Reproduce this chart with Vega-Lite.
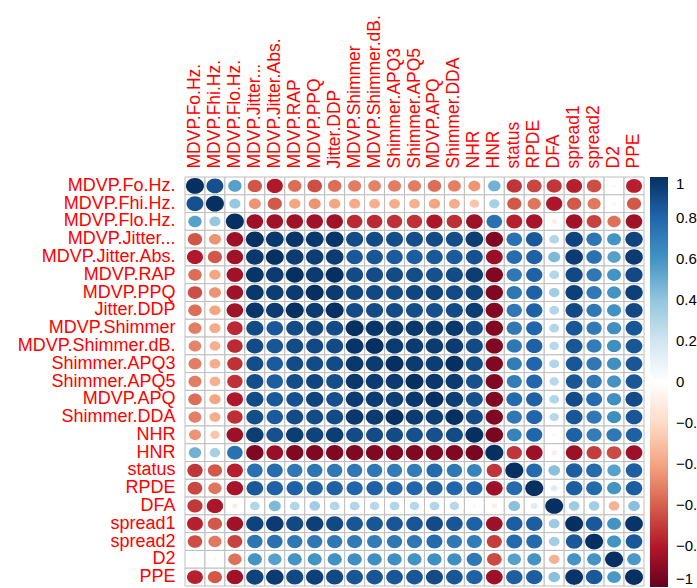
{
  "$schema": "https://vega.github.io/schema/vega-lite/v6.json",
  "width": 459,
  "height": 409,
  "autosize": {"type": "none"},
  "padding": {"left": 185, "top": 177, "right": 53, "bottom": 2},
  "background": "white",
  "config": {"view": {"stroke": null}, "font": "Liberation Sans"},
  "data": {"values": [
    {"row":"MDVP.Fo.Hz.","col":"MDVP.Fo.Hz.","r":1},{"row":"MDVP.Fo.Hz.","col":"MDVP.Fhi.Hz.","r":0.88},{"row":"MDVP.Fo.Hz.","col":"MDVP.Flo.Hz.","r":0.55},{"row":"MDVP.Fo.Hz.","col":"MDVP.Jitter...","r":-0.63},{"row":"MDVP.Fo.Hz.","col":"MDVP.Jitter.Abs.","r":-0.8},{"row":"MDVP.Fo.Hz.","col":"MDVP.RAP","r":-0.56},{"row":"MDVP.Fo.Hz.","col":"MDVP.PPQ","r":-0.65},{"row":"MDVP.Fo.Hz.","col":"Jitter.DDP","r":-0.56},{"row":"MDVP.Fo.Hz.","col":"MDVP.Shimmer","r":-0.52},{"row":"MDVP.Fo.Hz.","col":"MDVP.Shimmer.dB.","r":-0.5},{"row":"MDVP.Fo.Hz.","col":"Shimmer.APQ3","r":-0.52},{"row":"MDVP.Fo.Hz.","col":"Shimmer.APQ5","r":-0.52},{"row":"MDVP.Fo.Hz.","col":"MDVP.APQ","r":-0.56},{"row":"MDVP.Fo.Hz.","col":"Shimmer.DDA","r":-0.51},{"row":"MDVP.Fo.Hz.","col":"NHR","r":-0.45},{"row":"MDVP.Fo.Hz.","col":"HNR","r":0.48},{"row":"MDVP.Fo.Hz.","col":"status","r":-0.72},{"row":"MDVP.Fo.Hz.","col":"RPDE","r":-0.67},{"row":"MDVP.Fo.Hz.","col":"DFA","r":-0.71},{"row":"MDVP.Fo.Hz.","col":"spread1","r":-0.78},{"row":"MDVP.Fo.Hz.","col":"spread2","r":-0.65},{"row":"MDVP.Fo.Hz.","col":"D2","r":-0.05},{"row":"MDVP.Fo.Hz.","col":"PPE","r":-0.78},
    {"row":"MDVP.Fhi.Hz.","col":"MDVP.Fo.Hz.","r":0.88},{"row":"MDVP.Fhi.Hz.","col":"MDVP.Fhi.Hz.","r":1},{"row":"MDVP.Fhi.Hz.","col":"MDVP.Flo.Hz.","r":0.38},{"row":"MDVP.Fhi.Hz.","col":"MDVP.Jitter...","r":-0.45},{"row":"MDVP.Fhi.Hz.","col":"MDVP.Jitter.Abs.","r":-0.62},{"row":"MDVP.Fhi.Hz.","col":"MDVP.RAP","r":-0.4},{"row":"MDVP.Fhi.Hz.","col":"MDVP.PPQ","r":-0.45},{"row":"MDVP.Fhi.Hz.","col":"Jitter.DDP","r":-0.4},{"row":"MDVP.Fhi.Hz.","col":"MDVP.Shimmer","r":-0.38},{"row":"MDVP.Fhi.Hz.","col":"MDVP.Shimmer.dB.","r":-0.36},{"row":"MDVP.Fhi.Hz.","col":"Shimmer.APQ3","r":-0.37},{"row":"MDVP.Fhi.Hz.","col":"Shimmer.APQ5","r":-0.36},{"row":"MDVP.Fhi.Hz.","col":"MDVP.APQ","r":-0.4},{"row":"MDVP.Fhi.Hz.","col":"Shimmer.DDA","r":-0.37},{"row":"MDVP.Fhi.Hz.","col":"NHR","r":-0.28},{"row":"MDVP.Fhi.Hz.","col":"HNR","r":0.33},{"row":"MDVP.Fhi.Hz.","col":"status","r":-0.62},{"row":"MDVP.Fhi.Hz.","col":"RPDE","r":-0.54},{"row":"MDVP.Fhi.Hz.","col":"DFA","r":-0.82},{"row":"MDVP.Fhi.Hz.","col":"spread1","r":-0.62},{"row":"MDVP.Fhi.Hz.","col":"spread2","r":-0.53},{"row":"MDVP.Fhi.Hz.","col":"D2","r":0.05},{"row":"MDVP.Fhi.Hz.","col":"PPE","r":-0.62},
    {"row":"MDVP.Flo.Hz.","col":"MDVP.Fo.Hz.","r":0.55},{"row":"MDVP.Flo.Hz.","col":"MDVP.Fhi.Hz.","r":0.38},{"row":"MDVP.Flo.Hz.","col":"MDVP.Flo.Hz.","r":1},{"row":"MDVP.Flo.Hz.","col":"MDVP.Jitter...","r":-0.86},{"row":"MDVP.Flo.Hz.","col":"MDVP.Jitter.Abs.","r":-0.85},{"row":"MDVP.Flo.Hz.","col":"MDVP.RAP","r":-0.85},{"row":"MDVP.Flo.Hz.","col":"MDVP.PPQ","r":-0.85},{"row":"MDVP.Flo.Hz.","col":"Jitter.DDP","r":-0.85},{"row":"MDVP.Flo.Hz.","col":"MDVP.Shimmer","r":-0.75},{"row":"MDVP.Flo.Hz.","col":"MDVP.Shimmer.dB.","r":-0.75},{"row":"MDVP.Flo.Hz.","col":"Shimmer.APQ3","r":-0.73},{"row":"MDVP.Flo.Hz.","col":"Shimmer.APQ5","r":-0.73},{"row":"MDVP.Flo.Hz.","col":"MDVP.APQ","r":-0.81},{"row":"MDVP.Flo.Hz.","col":"Shimmer.DDA","r":-0.74},{"row":"MDVP.Flo.Hz.","col":"NHR","r":-0.86},{"row":"MDVP.Flo.Hz.","col":"HNR","r":0.75},{"row":"MDVP.Flo.Hz.","col":"status","r":-0.78},{"row":"MDVP.Flo.Hz.","col":"RPDE","r":-0.83},{"row":"MDVP.Flo.Hz.","col":"DFA","r":-0.1},{"row":"MDVP.Flo.Hz.","col":"spread1","r":-0.85},{"row":"MDVP.Flo.Hz.","col":"spread2","r":-0.68},{"row":"MDVP.Flo.Hz.","col":"D2","r":-0.55},{"row":"MDVP.Flo.Hz.","col":"PPE","r":-0.85},
    {"row":"MDVP.Jitter...","col":"MDVP.Fo.Hz.","r":-0.63},{"row":"MDVP.Jitter...","col":"MDVP.Fhi.Hz.","r":-0.45},{"row":"MDVP.Jitter...","col":"MDVP.Flo.Hz.","r":-0.86},{"row":"MDVP.Jitter...","col":"MDVP.Jitter...","r":1},{"row":"MDVP.Jitter...","col":"MDVP.Jitter.Abs.","r":0.97},{"row":"MDVP.Jitter...","col":"MDVP.RAP","r":0.98},{"row":"MDVP.Jitter...","col":"MDVP.PPQ","r":0.97},{"row":"MDVP.Jitter...","col":"Jitter.DDP","r":0.98},{"row":"MDVP.Jitter...","col":"MDVP.Shimmer","r":0.9},{"row":"MDVP.Jitter...","col":"MDVP.Shimmer.dB.","r":0.9},{"row":"MDVP.Jitter...","col":"Shimmer.APQ3","r":0.89},{"row":"MDVP.Jitter...","col":"Shimmer.APQ5","r":0.89},{"row":"MDVP.Jitter...","col":"MDVP.APQ","r":0.9},{"row":"MDVP.Jitter...","col":"Shimmer.DDA","r":0.89},{"row":"MDVP.Jitter...","col":"NHR","r":0.95},{"row":"MDVP.Jitter...","col":"HNR","r":-0.93},{"row":"MDVP.Jitter...","col":"status","r":0.75},{"row":"MDVP.Jitter...","col":"RPDE","r":0.85},{"row":"MDVP.Jitter...","col":"DFA","r":0.3},{"row":"MDVP.Jitter...","col":"spread1","r":0.93},{"row":"MDVP.Jitter...","col":"spread2","r":0.73},{"row":"MDVP.Jitter...","col":"D2","r":0.6},{"row":"MDVP.Jitter...","col":"PPE","r":0.93},
    {"row":"MDVP.Jitter.Abs.","col":"MDVP.Fo.Hz.","r":-0.8},{"row":"MDVP.Jitter.Abs.","col":"MDVP.Fhi.Hz.","r":-0.62},{"row":"MDVP.Jitter.Abs.","col":"MDVP.Flo.Hz.","r":-0.85},{"row":"MDVP.Jitter.Abs.","col":"MDVP.Jitter...","r":0.97},{"row":"MDVP.Jitter.Abs.","col":"MDVP.Jitter.Abs.","r":1},{"row":"MDVP.Jitter.Abs.","col":"MDVP.RAP","r":0.96},{"row":"MDVP.Jitter.Abs.","col":"MDVP.PPQ","r":0.95},{"row":"MDVP.Jitter.Abs.","col":"Jitter.DDP","r":0.96},{"row":"MDVP.Jitter.Abs.","col":"MDVP.Shimmer","r":0.85},{"row":"MDVP.Jitter.Abs.","col":"MDVP.Shimmer.dB.","r":0.86},{"row":"MDVP.Jitter.Abs.","col":"Shimmer.APQ3","r":0.84},{"row":"MDVP.Jitter.Abs.","col":"Shimmer.APQ5","r":0.83},{"row":"MDVP.Jitter.Abs.","col":"MDVP.APQ","r":0.85},{"row":"MDVP.Jitter.Abs.","col":"Shimmer.DDA","r":0.84},{"row":"MDVP.Jitter.Abs.","col":"NHR","r":0.88},{"row":"MDVP.Jitter.Abs.","col":"HNR","r":-0.87},{"row":"MDVP.Jitter.Abs.","col":"status","r":0.77},{"row":"MDVP.Jitter.Abs.","col":"RPDE","r":0.82},{"row":"MDVP.Jitter.Abs.","col":"DFA","r":0.45},{"row":"MDVP.Jitter.Abs.","col":"spread1","r":0.96},{"row":"MDVP.Jitter.Abs.","col":"spread2","r":0.75},{"row":"MDVP.Jitter.Abs.","col":"D2","r":0.55},{"row":"MDVP.Jitter.Abs.","col":"PPE","r":0.96},
    {"row":"MDVP.RAP","col":"MDVP.Fo.Hz.","r":-0.56},{"row":"MDVP.RAP","col":"MDVP.Fhi.Hz.","r":-0.4},{"row":"MDVP.RAP","col":"MDVP.Flo.Hz.","r":-0.85},{"row":"MDVP.RAP","col":"MDVP.Jitter...","r":0.98},{"row":"MDVP.RAP","col":"MDVP.Jitter.Abs.","r":0.96},{"row":"MDVP.RAP","col":"MDVP.RAP","r":1},{"row":"MDVP.RAP","col":"MDVP.PPQ","r":0.96},{"row":"MDVP.RAP","col":"Jitter.DDP","r":1},{"row":"MDVP.RAP","col":"MDVP.Shimmer","r":0.9},{"row":"MDVP.RAP","col":"MDVP.Shimmer.dB.","r":0.9},{"row":"MDVP.RAP","col":"Shimmer.APQ3","r":0.9},{"row":"MDVP.RAP","col":"Shimmer.APQ5","r":0.89},{"row":"MDVP.RAP","col":"MDVP.APQ","r":0.88},{"row":"MDVP.RAP","col":"Shimmer.DDA","r":0.9},{"row":"MDVP.RAP","col":"NHR","r":0.95},{"row":"MDVP.RAP","col":"HNR","r":-0.93},{"row":"MDVP.RAP","col":"status","r":0.72},{"row":"MDVP.RAP","col":"RPDE","r":0.82},{"row":"MDVP.RAP","col":"DFA","r":0.3},{"row":"MDVP.RAP","col":"spread1","r":0.91},{"row":"MDVP.RAP","col":"spread2","r":0.72},{"row":"MDVP.RAP","col":"D2","r":0.6},{"row":"MDVP.RAP","col":"PPE","r":0.91},
    {"row":"MDVP.PPQ","col":"MDVP.Fo.Hz.","r":-0.65},{"row":"MDVP.PPQ","col":"MDVP.Fhi.Hz.","r":-0.45},{"row":"MDVP.PPQ","col":"MDVP.Flo.Hz.","r":-0.85},{"row":"MDVP.PPQ","col":"MDVP.Jitter...","r":0.97},{"row":"MDVP.PPQ","col":"MDVP.Jitter.Abs.","r":0.95},{"row":"MDVP.PPQ","col":"MDVP.RAP","r":0.96},{"row":"MDVP.PPQ","col":"MDVP.PPQ","r":1},{"row":"MDVP.PPQ","col":"Jitter.DDP","r":0.96},{"row":"MDVP.PPQ","col":"MDVP.Shimmer","r":0.92},{"row":"MDVP.PPQ","col":"MDVP.Shimmer.dB.","r":0.91},{"row":"MDVP.PPQ","col":"Shimmer.APQ3","r":0.9},{"row":"MDVP.PPQ","col":"Shimmer.APQ5","r":0.92},{"row":"MDVP.PPQ","col":"MDVP.APQ","r":0.93},{"row":"MDVP.PPQ","col":"Shimmer.DDA","r":0.9},{"row":"MDVP.PPQ","col":"NHR","r":0.93},{"row":"MDVP.PPQ","col":"HNR","r":-0.93},{"row":"MDVP.PPQ","col":"status","r":0.73},{"row":"MDVP.PPQ","col":"RPDE","r":0.82},{"row":"MDVP.PPQ","col":"DFA","r":0.35},{"row":"MDVP.PPQ","col":"spread1","r":0.94},{"row":"MDVP.PPQ","col":"spread2","r":0.72},{"row":"MDVP.PPQ","col":"D2","r":0.6},{"row":"MDVP.PPQ","col":"PPE","r":0.94},
    {"row":"Jitter.DDP","col":"MDVP.Fo.Hz.","r":-0.56},{"row":"Jitter.DDP","col":"MDVP.Fhi.Hz.","r":-0.4},{"row":"Jitter.DDP","col":"MDVP.Flo.Hz.","r":-0.85},{"row":"Jitter.DDP","col":"MDVP.Jitter...","r":0.98},{"row":"Jitter.DDP","col":"MDVP.Jitter.Abs.","r":0.96},{"row":"Jitter.DDP","col":"MDVP.RAP","r":1},{"row":"Jitter.DDP","col":"MDVP.PPQ","r":0.96},{"row":"Jitter.DDP","col":"Jitter.DDP","r":1},{"row":"Jitter.DDP","col":"MDVP.Shimmer","r":0.9},{"row":"Jitter.DDP","col":"MDVP.Shimmer.dB.","r":0.9},{"row":"Jitter.DDP","col":"Shimmer.APQ3","r":0.9},{"row":"Jitter.DDP","col":"Shimmer.APQ5","r":0.89},{"row":"Jitter.DDP","col":"MDVP.APQ","r":0.88},{"row":"Jitter.DDP","col":"Shimmer.DDA","r":0.9},{"row":"Jitter.DDP","col":"NHR","r":0.95},{"row":"Jitter.DDP","col":"HNR","r":-0.93},{"row":"Jitter.DDP","col":"status","r":0.72},{"row":"Jitter.DDP","col":"RPDE","r":0.82},{"row":"Jitter.DDP","col":"DFA","r":0.3},{"row":"Jitter.DDP","col":"spread1","r":0.91},{"row":"Jitter.DDP","col":"spread2","r":0.72},{"row":"Jitter.DDP","col":"D2","r":0.61},{"row":"Jitter.DDP","col":"PPE","r":0.91},
    {"row":"MDVP.Shimmer","col":"MDVP.Fo.Hz.","r":-0.52},{"row":"MDVP.Shimmer","col":"MDVP.Fhi.Hz.","r":-0.38},{"row":"MDVP.Shimmer","col":"MDVP.Flo.Hz.","r":-0.75},{"row":"MDVP.Shimmer","col":"MDVP.Jitter...","r":0.9},{"row":"MDVP.Shimmer","col":"MDVP.Jitter.Abs.","r":0.85},{"row":"MDVP.Shimmer","col":"MDVP.RAP","r":0.9},{"row":"MDVP.Shimmer","col":"MDVP.PPQ","r":0.92},{"row":"MDVP.Shimmer","col":"Jitter.DDP","r":0.9},{"row":"MDVP.Shimmer","col":"MDVP.Shimmer","r":1},{"row":"MDVP.Shimmer","col":"MDVP.Shimmer.dB.","r":0.98},{"row":"MDVP.Shimmer","col":"Shimmer.APQ3","r":0.97},{"row":"MDVP.Shimmer","col":"Shimmer.APQ5","r":0.97},{"row":"MDVP.Shimmer","col":"MDVP.APQ","r":0.96},{"row":"MDVP.Shimmer","col":"Shimmer.DDA","r":0.97},{"row":"MDVP.Shimmer","col":"NHR","r":0.9},{"row":"MDVP.Shimmer","col":"HNR","r":-0.93},{"row":"MDVP.Shimmer","col":"status","r":0.72},{"row":"MDVP.Shimmer","col":"RPDE","r":0.8},{"row":"MDVP.Shimmer","col":"DFA","r":0.3},{"row":"MDVP.Shimmer","col":"spread1","r":0.86},{"row":"MDVP.Shimmer","col":"spread2","r":0.71},{"row":"MDVP.Shimmer","col":"D2","r":0.62},{"row":"MDVP.Shimmer","col":"PPE","r":0.86},
    {"row":"MDVP.Shimmer.dB.","col":"MDVP.Fo.Hz.","r":-0.5},{"row":"MDVP.Shimmer.dB.","col":"MDVP.Fhi.Hz.","r":-0.36},{"row":"MDVP.Shimmer.dB.","col":"MDVP.Flo.Hz.","r":-0.75},{"row":"MDVP.Shimmer.dB.","col":"MDVP.Jitter...","r":0.9},{"row":"MDVP.Shimmer.dB.","col":"MDVP.Jitter.Abs.","r":0.86},{"row":"MDVP.Shimmer.dB.","col":"MDVP.RAP","r":0.9},{"row":"MDVP.Shimmer.dB.","col":"MDVP.PPQ","r":0.91},{"row":"MDVP.Shimmer.dB.","col":"Jitter.DDP","r":0.9},{"row":"MDVP.Shimmer.dB.","col":"MDVP.Shimmer","r":0.98},{"row":"MDVP.Shimmer.dB.","col":"MDVP.Shimmer.dB.","r":1},{"row":"MDVP.Shimmer.dB.","col":"Shimmer.APQ3","r":0.96},{"row":"MDVP.Shimmer.dB.","col":"Shimmer.APQ5","r":0.96},{"row":"MDVP.Shimmer.dB.","col":"MDVP.APQ","r":0.96},{"row":"MDVP.Shimmer.dB.","col":"Shimmer.DDA","r":0.96},{"row":"MDVP.Shimmer.dB.","col":"NHR","r":0.9},{"row":"MDVP.Shimmer.dB.","col":"HNR","r":-0.93},{"row":"MDVP.Shimmer.dB.","col":"status","r":0.72},{"row":"MDVP.Shimmer.dB.","col":"RPDE","r":0.82},{"row":"MDVP.Shimmer.dB.","col":"DFA","r":0.28},{"row":"MDVP.Shimmer.dB.","col":"spread1","r":0.86},{"row":"MDVP.Shimmer.dB.","col":"spread2","r":0.7},{"row":"MDVP.Shimmer.dB.","col":"D2","r":0.62},{"row":"MDVP.Shimmer.dB.","col":"PPE","r":0.86},
    {"row":"Shimmer.APQ3","col":"MDVP.Fo.Hz.","r":-0.52},{"row":"Shimmer.APQ3","col":"MDVP.Fhi.Hz.","r":-0.37},{"row":"Shimmer.APQ3","col":"MDVP.Flo.Hz.","r":-0.73},{"row":"Shimmer.APQ3","col":"MDVP.Jitter...","r":0.89},{"row":"Shimmer.APQ3","col":"MDVP.Jitter.Abs.","r":0.84},{"row":"Shimmer.APQ3","col":"MDVP.RAP","r":0.9},{"row":"Shimmer.APQ3","col":"MDVP.PPQ","r":0.9},{"row":"Shimmer.APQ3","col":"Jitter.DDP","r":0.9},{"row":"Shimmer.APQ3","col":"MDVP.Shimmer","r":0.97},{"row":"Shimmer.APQ3","col":"MDVP.Shimmer.dB.","r":0.96},{"row":"Shimmer.APQ3","col":"Shimmer.APQ3","r":1},{"row":"Shimmer.APQ3","col":"Shimmer.APQ5","r":0.96},{"row":"Shimmer.APQ3","col":"MDVP.APQ","r":0.95},{"row":"Shimmer.APQ3","col":"Shimmer.DDA","r":1},{"row":"Shimmer.APQ3","col":"NHR","r":0.9},{"row":"Shimmer.APQ3","col":"HNR","r":-0.93},{"row":"Shimmer.APQ3","col":"status","r":0.7},{"row":"Shimmer.APQ3","col":"RPDE","r":0.8},{"row":"Shimmer.APQ3","col":"DFA","r":0.3},{"row":"Shimmer.APQ3","col":"spread1","r":0.86},{"row":"Shimmer.APQ3","col":"spread2","r":0.72},{"row":"Shimmer.APQ3","col":"D2","r":0.62},{"row":"Shimmer.APQ3","col":"PPE","r":0.86},
    {"row":"Shimmer.APQ5","col":"MDVP.Fo.Hz.","r":-0.52},{"row":"Shimmer.APQ5","col":"MDVP.Fhi.Hz.","r":-0.36},{"row":"Shimmer.APQ5","col":"MDVP.Flo.Hz.","r":-0.73},{"row":"Shimmer.APQ5","col":"MDVP.Jitter...","r":0.89},{"row":"Shimmer.APQ5","col":"MDVP.Jitter.Abs.","r":0.83},{"row":"Shimmer.APQ5","col":"MDVP.RAP","r":0.89},{"row":"Shimmer.APQ5","col":"MDVP.PPQ","r":0.92},{"row":"Shimmer.APQ5","col":"Jitter.DDP","r":0.89},{"row":"Shimmer.APQ5","col":"MDVP.Shimmer","r":0.97},{"row":"Shimmer.APQ5","col":"MDVP.Shimmer.dB.","r":0.96},{"row":"Shimmer.APQ5","col":"Shimmer.APQ3","r":0.96},{"row":"Shimmer.APQ5","col":"Shimmer.APQ5","r":1},{"row":"Shimmer.APQ5","col":"MDVP.APQ","r":0.97},{"row":"Shimmer.APQ5","col":"Shimmer.DDA","r":0.96},{"row":"Shimmer.APQ5","col":"NHR","r":0.88},{"row":"Shimmer.APQ5","col":"HNR","r":-0.93},{"row":"Shimmer.APQ5","col":"status","r":0.7},{"row":"Shimmer.APQ5","col":"RPDE","r":0.8},{"row":"Shimmer.APQ5","col":"DFA","r":0.28},{"row":"Shimmer.APQ5","col":"spread1","r":0.86},{"row":"Shimmer.APQ5","col":"spread2","r":0.72},{"row":"Shimmer.APQ5","col":"D2","r":0.6},{"row":"Shimmer.APQ5","col":"PPE","r":0.86},
    {"row":"MDVP.APQ","col":"MDVP.Fo.Hz.","r":-0.56},{"row":"MDVP.APQ","col":"MDVP.Fhi.Hz.","r":-0.4},{"row":"MDVP.APQ","col":"MDVP.Flo.Hz.","r":-0.81},{"row":"MDVP.APQ","col":"MDVP.Jitter...","r":0.9},{"row":"MDVP.APQ","col":"MDVP.Jitter.Abs.","r":0.85},{"row":"MDVP.APQ","col":"MDVP.RAP","r":0.88},{"row":"MDVP.APQ","col":"MDVP.PPQ","r":0.93},{"row":"MDVP.APQ","col":"Jitter.DDP","r":0.88},{"row":"MDVP.APQ","col":"MDVP.Shimmer","r":0.96},{"row":"MDVP.APQ","col":"MDVP.Shimmer.dB.","r":0.96},{"row":"MDVP.APQ","col":"Shimmer.APQ3","r":0.95},{"row":"MDVP.APQ","col":"Shimmer.APQ5","r":0.97},{"row":"MDVP.APQ","col":"MDVP.APQ","r":1},{"row":"MDVP.APQ","col":"Shimmer.DDA","r":0.95},{"row":"MDVP.APQ","col":"NHR","r":0.88},{"row":"MDVP.APQ","col":"HNR","r":-0.93},{"row":"MDVP.APQ","col":"status","r":0.78},{"row":"MDVP.APQ","col":"RPDE","r":0.82},{"row":"MDVP.APQ","col":"DFA","r":0.3},{"row":"MDVP.APQ","col":"spread1","r":0.9},{"row":"MDVP.APQ","col":"spread2","r":0.78},{"row":"MDVP.APQ","col":"D2","r":0.62},{"row":"MDVP.APQ","col":"PPE","r":0.9},
    {"row":"Shimmer.DDA","col":"MDVP.Fo.Hz.","r":-0.51},{"row":"Shimmer.DDA","col":"MDVP.Fhi.Hz.","r":-0.37},{"row":"Shimmer.DDA","col":"MDVP.Flo.Hz.","r":-0.74},{"row":"Shimmer.DDA","col":"MDVP.Jitter...","r":0.89},{"row":"Shimmer.DDA","col":"MDVP.Jitter.Abs.","r":0.84},{"row":"Shimmer.DDA","col":"MDVP.RAP","r":0.9},{"row":"Shimmer.DDA","col":"MDVP.PPQ","r":0.9},{"row":"Shimmer.DDA","col":"Jitter.DDP","r":0.9},{"row":"Shimmer.DDA","col":"MDVP.Shimmer","r":0.97},{"row":"Shimmer.DDA","col":"MDVP.Shimmer.dB.","r":0.96},{"row":"Shimmer.DDA","col":"Shimmer.APQ3","r":1},{"row":"Shimmer.DDA","col":"Shimmer.APQ5","r":0.96},{"row":"Shimmer.DDA","col":"MDVP.APQ","r":0.95},{"row":"Shimmer.DDA","col":"Shimmer.DDA","r":1},{"row":"Shimmer.DDA","col":"NHR","r":0.9},{"row":"Shimmer.DDA","col":"HNR","r":-0.93},{"row":"Shimmer.DDA","col":"status","r":0.72},{"row":"Shimmer.DDA","col":"RPDE","r":0.8},{"row":"Shimmer.DDA","col":"DFA","r":0.28},{"row":"Shimmer.DDA","col":"spread1","r":0.86},{"row":"Shimmer.DDA","col":"spread2","r":0.72},{"row":"Shimmer.DDA","col":"D2","r":0.62},{"row":"Shimmer.DDA","col":"PPE","r":0.86},
    {"row":"NHR","col":"MDVP.Fo.Hz.","r":-0.45},{"row":"NHR","col":"MDVP.Fhi.Hz.","r":-0.28},{"row":"NHR","col":"MDVP.Flo.Hz.","r":-0.86},{"row":"NHR","col":"MDVP.Jitter...","r":0.95},{"row":"NHR","col":"MDVP.Jitter.Abs.","r":0.88},{"row":"NHR","col":"MDVP.RAP","r":0.95},{"row":"NHR","col":"MDVP.PPQ","r":0.93},{"row":"NHR","col":"Jitter.DDP","r":0.95},{"row":"NHR","col":"MDVP.Shimmer","r":0.9},{"row":"NHR","col":"MDVP.Shimmer.dB.","r":0.9},{"row":"NHR","col":"Shimmer.APQ3","r":0.9},{"row":"NHR","col":"Shimmer.APQ5","r":0.88},{"row":"NHR","col":"MDVP.APQ","r":0.88},{"row":"NHR","col":"Shimmer.DDA","r":0.9},{"row":"NHR","col":"NHR","r":1},{"row":"NHR","col":"HNR","r":-0.95},{"row":"NHR","col":"status","r":0.67},{"row":"NHR","col":"RPDE","r":0.8},{"row":"NHR","col":"DFA","r":0.04},{"row":"NHR","col":"spread1","r":0.82},{"row":"NHR","col":"spread2","r":0.7},{"row":"NHR","col":"D2","r":0.72},{"row":"NHR","col":"PPE","r":0.82},
    {"row":"HNR","col":"MDVP.Fo.Hz.","r":0.48},{"row":"HNR","col":"MDVP.Fhi.Hz.","r":0.33},{"row":"HNR","col":"MDVP.Flo.Hz.","r":0.75},{"row":"HNR","col":"MDVP.Jitter...","r":-0.93},{"row":"HNR","col":"MDVP.Jitter.Abs.","r":-0.87},{"row":"HNR","col":"MDVP.RAP","r":-0.93},{"row":"HNR","col":"MDVP.PPQ","r":-0.93},{"row":"HNR","col":"Jitter.DDP","r":-0.93},{"row":"HNR","col":"MDVP.Shimmer","r":-0.93},{"row":"HNR","col":"MDVP.Shimmer.dB.","r":-0.93},{"row":"HNR","col":"Shimmer.APQ3","r":-0.93},{"row":"HNR","col":"Shimmer.APQ5","r":-0.93},{"row":"HNR","col":"MDVP.APQ","r":-0.93},{"row":"HNR","col":"Shimmer.DDA","r":-0.93},{"row":"HNR","col":"NHR","r":-0.95},{"row":"HNR","col":"HNR","r":1},{"row":"HNR","col":"status","r":-0.72},{"row":"HNR","col":"RPDE","r":-0.86},{"row":"HNR","col":"DFA","r":-0.1},{"row":"HNR","col":"spread1","r":-0.86},{"row":"HNR","col":"spread2","r":-0.7},{"row":"HNR","col":"D2","r":-0.66},{"row":"HNR","col":"PPE","r":-0.86},
    {"row":"status","col":"MDVP.Fo.Hz.","r":-0.72},{"row":"status","col":"MDVP.Fhi.Hz.","r":-0.62},{"row":"status","col":"MDVP.Flo.Hz.","r":-0.78},{"row":"status","col":"MDVP.Jitter...","r":0.75},{"row":"status","col":"MDVP.Jitter.Abs.","r":0.77},{"row":"status","col":"MDVP.RAP","r":0.72},{"row":"status","col":"MDVP.PPQ","r":0.73},{"row":"status","col":"Jitter.DDP","r":0.72},{"row":"status","col":"MDVP.Shimmer","r":0.72},{"row":"status","col":"MDVP.Shimmer.dB.","r":0.72},{"row":"status","col":"Shimmer.APQ3","r":0.7},{"row":"status","col":"Shimmer.APQ5","r":0.7},{"row":"status","col":"MDVP.APQ","r":0.78},{"row":"status","col":"Shimmer.DDA","r":0.72},{"row":"status","col":"NHR","r":0.67},{"row":"status","col":"HNR","r":-0.72},{"row":"status","col":"status","r":1},{"row":"status","col":"RPDE","r":0.78},{"row":"status","col":"DFA","r":0.42},{"row":"status","col":"spread1","r":0.83},{"row":"status","col":"spread2","r":0.78},{"row":"status","col":"D2","r":0.55},{"row":"status","col":"PPE","r":0.83},
    {"row":"RPDE","col":"MDVP.Fo.Hz.","r":-0.67},{"row":"RPDE","col":"MDVP.Fhi.Hz.","r":-0.54},{"row":"RPDE","col":"MDVP.Flo.Hz.","r":-0.83},{"row":"RPDE","col":"MDVP.Jitter...","r":0.85},{"row":"RPDE","col":"MDVP.Jitter.Abs.","r":0.82},{"row":"RPDE","col":"MDVP.RAP","r":0.82},{"row":"RPDE","col":"MDVP.PPQ","r":0.82},{"row":"RPDE","col":"Jitter.DDP","r":0.82},{"row":"RPDE","col":"MDVP.Shimmer","r":0.8},{"row":"RPDE","col":"MDVP.Shimmer.dB.","r":0.82},{"row":"RPDE","col":"Shimmer.APQ3","r":0.8},{"row":"RPDE","col":"Shimmer.APQ5","r":0.8},{"row":"RPDE","col":"MDVP.APQ","r":0.82},{"row":"RPDE","col":"Shimmer.DDA","r":0.8},{"row":"RPDE","col":"NHR","r":0.8},{"row":"RPDE","col":"HNR","r":-0.86},{"row":"RPDE","col":"status","r":0.78},{"row":"RPDE","col":"RPDE","r":1},{"row":"RPDE","col":"DFA","r":0.15},{"row":"RPDE","col":"spread1","r":0.83},{"row":"RPDE","col":"spread2","r":0.78},{"row":"RPDE","col":"D2","r":0.6},{"row":"RPDE","col":"PPE","r":0.83},
    {"row":"DFA","col":"MDVP.Fo.Hz.","r":-0.71},{"row":"DFA","col":"MDVP.Fhi.Hz.","r":-0.82},{"row":"DFA","col":"MDVP.Flo.Hz.","r":-0.1},{"row":"DFA","col":"MDVP.Jitter...","r":0.3},{"row":"DFA","col":"MDVP.Jitter.Abs.","r":0.45},{"row":"DFA","col":"MDVP.RAP","r":0.3},{"row":"DFA","col":"MDVP.PPQ","r":0.35},{"row":"DFA","col":"Jitter.DDP","r":0.3},{"row":"DFA","col":"MDVP.Shimmer","r":0.3},{"row":"DFA","col":"MDVP.Shimmer.dB.","r":0.28},{"row":"DFA","col":"Shimmer.APQ3","r":0.3},{"row":"DFA","col":"Shimmer.APQ5","r":0.28},{"row":"DFA","col":"MDVP.APQ","r":0.3},{"row":"DFA","col":"Shimmer.DDA","r":0.28},{"row":"DFA","col":"NHR","r":0.04},{"row":"DFA","col":"HNR","r":-0.1},{"row":"DFA","col":"status","r":0.42},{"row":"DFA","col":"RPDE","r":0.15},{"row":"DFA","col":"DFA","r":1},{"row":"DFA","col":"spread1","r":0.36},{"row":"DFA","col":"spread2","r":0.35},{"row":"DFA","col":"D2","r":-0.35},{"row":"DFA","col":"PPE","r":0.42},
    {"row":"spread1","col":"MDVP.Fo.Hz.","r":-0.78},{"row":"spread1","col":"MDVP.Fhi.Hz.","r":-0.62},{"row":"spread1","col":"MDVP.Flo.Hz.","r":-0.85},{"row":"spread1","col":"MDVP.Jitter...","r":0.93},{"row":"spread1","col":"MDVP.Jitter.Abs.","r":0.96},{"row":"spread1","col":"MDVP.RAP","r":0.91},{"row":"spread1","col":"MDVP.PPQ","r":0.94},{"row":"spread1","col":"Jitter.DDP","r":0.91},{"row":"spread1","col":"MDVP.Shimmer","r":0.86},{"row":"spread1","col":"MDVP.Shimmer.dB.","r":0.86},{"row":"spread1","col":"Shimmer.APQ3","r":0.86},{"row":"spread1","col":"Shimmer.APQ5","r":0.86},{"row":"spread1","col":"MDVP.APQ","r":0.9},{"row":"spread1","col":"Shimmer.DDA","r":0.86},{"row":"spread1","col":"NHR","r":0.82},{"row":"spread1","col":"HNR","r":-0.86},{"row":"spread1","col":"status","r":0.83},{"row":"spread1","col":"RPDE","r":0.83},{"row":"spread1","col":"DFA","r":0.36},{"row":"spread1","col":"spread1","r":1},{"row":"spread1","col":"spread2","r":0.85},{"row":"spread1","col":"D2","r":0.6},{"row":"spread1","col":"PPE","r":0.98},
    {"row":"spread2","col":"MDVP.Fo.Hz.","r":-0.65},{"row":"spread2","col":"MDVP.Fhi.Hz.","r":-0.53},{"row":"spread2","col":"MDVP.Flo.Hz.","r":-0.68},{"row":"spread2","col":"MDVP.Jitter...","r":0.73},{"row":"spread2","col":"MDVP.Jitter.Abs.","r":0.75},{"row":"spread2","col":"MDVP.RAP","r":0.72},{"row":"spread2","col":"MDVP.PPQ","r":0.72},{"row":"spread2","col":"Jitter.DDP","r":0.72},{"row":"spread2","col":"MDVP.Shimmer","r":0.71},{"row":"spread2","col":"MDVP.Shimmer.dB.","r":0.7},{"row":"spread2","col":"Shimmer.APQ3","r":0.72},{"row":"spread2","col":"Shimmer.APQ5","r":0.72},{"row":"spread2","col":"MDVP.APQ","r":0.78},{"row":"spread2","col":"Shimmer.DDA","r":0.72},{"row":"spread2","col":"NHR","r":0.7},{"row":"spread2","col":"HNR","r":-0.7},{"row":"spread2","col":"status","r":0.78},{"row":"spread2","col":"RPDE","r":0.78},{"row":"spread2","col":"DFA","r":0.35},{"row":"spread2","col":"spread1","r":0.85},{"row":"spread2","col":"spread2","r":1},{"row":"spread2","col":"D2","r":0.6},{"row":"spread2","col":"PPE","r":0.85},
    {"row":"D2","col":"MDVP.Fo.Hz.","r":-0.05},{"row":"D2","col":"MDVP.Fhi.Hz.","r":0.05},{"row":"D2","col":"MDVP.Flo.Hz.","r":-0.55},{"row":"D2","col":"MDVP.Jitter...","r":0.6},{"row":"D2","col":"MDVP.Jitter.Abs.","r":0.55},{"row":"D2","col":"MDVP.RAP","r":0.6},{"row":"D2","col":"MDVP.PPQ","r":0.6},{"row":"D2","col":"Jitter.DDP","r":0.61},{"row":"D2","col":"MDVP.Shimmer","r":0.62},{"row":"D2","col":"MDVP.Shimmer.dB.","r":0.62},{"row":"D2","col":"Shimmer.APQ3","r":0.62},{"row":"D2","col":"Shimmer.APQ5","r":0.6},{"row":"D2","col":"MDVP.APQ","r":0.62},{"row":"D2","col":"Shimmer.DDA","r":0.62},{"row":"D2","col":"NHR","r":0.72},{"row":"D2","col":"HNR","r":-0.66},{"row":"D2","col":"status","r":0.55},{"row":"D2","col":"RPDE","r":0.6},{"row":"D2","col":"DFA","r":-0.35},{"row":"D2","col":"spread1","r":0.6},{"row":"D2","col":"spread2","r":0.6},{"row":"D2","col":"D2","r":1},{"row":"D2","col":"PPE","r":0.58},
    {"row":"PPE","col":"MDVP.Fo.Hz.","r":-0.78},{"row":"PPE","col":"MDVP.Fhi.Hz.","r":-0.62},{"row":"PPE","col":"MDVP.Flo.Hz.","r":-0.85},{"row":"PPE","col":"MDVP.Jitter...","r":0.93},{"row":"PPE","col":"MDVP.Jitter.Abs.","r":0.96},{"row":"PPE","col":"MDVP.RAP","r":0.91},{"row":"PPE","col":"MDVP.PPQ","r":0.94},{"row":"PPE","col":"Jitter.DDP","r":0.91},{"row":"PPE","col":"MDVP.Shimmer","r":0.86},{"row":"PPE","col":"MDVP.Shimmer.dB.","r":0.86},{"row":"PPE","col":"Shimmer.APQ3","r":0.86},{"row":"PPE","col":"Shimmer.APQ5","r":0.86},{"row":"PPE","col":"MDVP.APQ","r":0.9},{"row":"PPE","col":"Shimmer.DDA","r":0.86},{"row":"PPE","col":"NHR","r":0.82},{"row":"PPE","col":"HNR","r":-0.86},{"row":"PPE","col":"status","r":0.83},{"row":"PPE","col":"RPDE","r":0.83},{"row":"PPE","col":"DFA","r":0.42},{"row":"PPE","col":"spread1","r":0.98},{"row":"PPE","col":"spread2","r":0.85},{"row":"PPE","col":"D2","r":0.58},{"row":"PPE","col":"PPE","r":1}
  ]},
  "encoding": {
    "x": {
      "field": "col", "type": "nominal",
      "scale": {"domain": ["MDVP.Fo.Hz.","MDVP.Fhi.Hz.","MDVP.Flo.Hz.","MDVP.Jitter...","MDVP.Jitter.Abs.","MDVP.RAP","MDVP.PPQ","Jitter.DDP","MDVP.Shimmer","MDVP.Shimmer.dB.","Shimmer.APQ3","Shimmer.APQ5","MDVP.APQ","Shimmer.DDA","NHR","HNR","status","RPDE","DFA","spread1","spread2","D2","PPE"], "paddingInner": 0, "paddingOuter": 0},
      "axis": {"orient": "top", "title": null, "domain": false, "ticks": false, "grid": false, "labelAngle": -90, "labelAlign": "left", "labelBaseline": "middle", "labelPadding": 9, "labelFontSize": 17.5, "labelFont": "Liberation Sans", "labelColor": "#FF0000", "labelLimit": 400, "labelOverlap": false}
    },
    "y": {
      "field": "row", "type": "nominal",
      "scale": {"domain": ["MDVP.Fo.Hz.","MDVP.Fhi.Hz.","MDVP.Flo.Hz.","MDVP.Jitter...","MDVP.Jitter.Abs.","MDVP.RAP","MDVP.PPQ","Jitter.DDP","MDVP.Shimmer","MDVP.Shimmer.dB.","Shimmer.APQ3","Shimmer.APQ5","MDVP.APQ","Shimmer.DDA","NHR","HNR","status","RPDE","DFA","spread1","spread2","D2","PPE"], "paddingInner": 0, "paddingOuter": 0},
      "axis": {"title": null, "domain": false, "ticks": false, "grid": false, "labelAlign": "right", "labelBaseline": "middle", "labelPadding": 10, "labelFontSize": 18, "labelFont": "Liberation Sans", "labelColor": "#FF0000", "labelLimit": 400, "labelOverlap": false}
    }
  },
  "layer": [
    {"mark": {"type": "rect", "fill": "white", "stroke": "#BEBEBE", "strokeWidth": 1}},
    {
      "mark": {"type": "point", "filled": true, "opacity": 1, "shape": "M1,0C1,0.4816,0.5523,0.872,0,0.872C-0.5523,0.872,-1,0.4816,-1,0C-1,-0.4816,-0.5523,-0.872,0,-0.872C0.5523,-0.872,1,-0.4816,1,0Z"},
      "encoding": {
        "color": {
          "field": "r", "type": "quantitative",
          "scale": {"type": "linear", "domain": [-1,-0.8,-0.6,-0.4,-0.2,0,0.2,0.4,0.6,0.8,1], "range": ["#67001F","#B2182B","#D6604D","#F4A582","#FDDBC7","#FFFFFF","#D1E5F0","#92C5DE","#4393C3","#2166AC","#053061"], "interpolate": "rgb"},
          "legend": {
            "orient": "none", "legendX": 465, "legendY": 0, "direction": "vertical", "title": null, "padding": 0,
            "gradientLength": 410, "gradientThickness": 18, "gradientStrokeWidth": 0,
            "values": [-1,-0.8,-0.6,-0.4,-0.2,0,0.2,0.4,0.6,0.8,1], "format": "~g",
            "labelOffset": 8, "labelFontSize": 15, "labelFont": "Liberation Sans", "labelColor": "#000000", "labelOverlap": false
          }
        },
        "size": {"field": "r", "type": "quantitative", "scale": {"type": "linear", "domain": [-1,0,1], "range": [324,0,324]}, "legend": null}
      }
    }
  ]
}
